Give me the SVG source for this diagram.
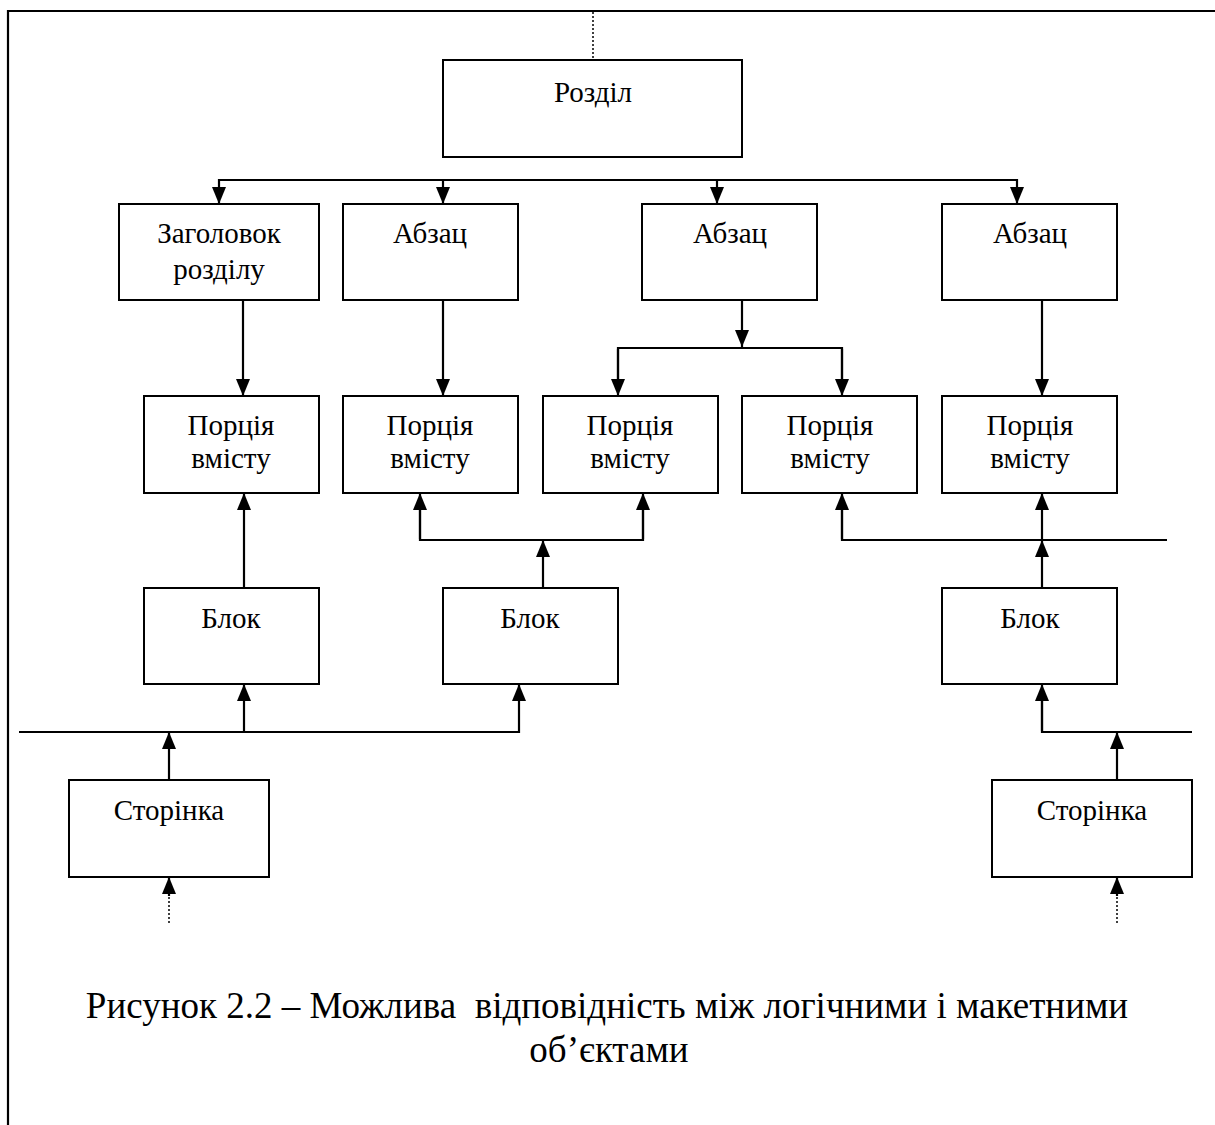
<svg xmlns="http://www.w3.org/2000/svg" width="1215" height="1125" viewBox="0 0 1215 1125">
<style>
.box{fill:#fff;stroke:#000;stroke-width:2}
.ln{fill:none;stroke:#000;stroke-width:2.2}
.dot{fill:none;stroke:#000;stroke-width:1.5;stroke-dasharray:2 2}
.t{font-family:"Liberation Serif","Times New Roman",serif;font-size:29px;fill:#000;text-anchor:middle}
.cap{font-family:"Liberation Serif","Times New Roman",serif;font-size:37px;fill:#000;text-anchor:middle;white-space:pre}
</style>
<defs>
<marker id="ah" markerUnits="userSpaceOnUse" markerWidth="18" markerHeight="14" viewBox="0 0 18 14" refX="17" refY="7" orient="auto">
<path d="M0,0 L17,7 L0,14 Z" fill="#000"/>
</marker>
</defs>
<rect width="1215" height="1125" fill="#fff"/>
<path class="ln" d="M8,1125 V11 H1215"/>

<g id="connectors">
<line class="dot" x1="593" y1="12" x2="593" y2="60"/>
<path class="ln" d="M219,180 H1017"/>
<line class="ln" x1="219" y1="179" x2="219" y2="204" marker-end="url(#ah)"/>
<line class="ln" x1="443" y1="180" x2="443" y2="204" marker-end="url(#ah)"/>
<line class="ln" x1="717" y1="180" x2="717" y2="204" marker-end="url(#ah)"/>
<line class="ln" x1="1017" y1="179" x2="1017" y2="204" marker-end="url(#ah)"/>
<line class="ln" x1="243" y1="300" x2="243" y2="396" marker-end="url(#ah)"/>
<line class="ln" x1="443" y1="300" x2="443" y2="396" marker-end="url(#ah)"/>
<line class="ln" x1="742" y1="300" x2="742" y2="347" marker-end="url(#ah)"/>
<path class="ln" d="M618,380 V348 H842 V380"/>
<line class="ln" x1="618" y1="349" x2="618" y2="396" marker-end="url(#ah)"/>
<line class="ln" x1="842" y1="349" x2="842" y2="396" marker-end="url(#ah)"/>
<line class="ln" x1="1042" y1="300" x2="1042" y2="396" marker-end="url(#ah)"/>
<line class="ln" x1="244" y1="588" x2="244" y2="493" marker-end="url(#ah)"/>
<line class="ln" x1="543" y1="588" x2="543" y2="540" marker-end="url(#ah)"/>
<path class="ln" d="M420,510 V540 H643 V510"/>
<line class="ln" x1="420" y1="539" x2="420" y2="493" marker-end="url(#ah)"/>
<line class="ln" x1="643" y1="539" x2="643" y2="493" marker-end="url(#ah)"/>
<path class="ln" d="M842,510 V540 H1167"/>
<line class="ln" x1="842" y1="539" x2="842" y2="493" marker-end="url(#ah)"/>
<line class="ln" x1="1042" y1="540" x2="1042" y2="493" marker-end="url(#ah)"/>
<line class="ln" x1="1042" y1="588" x2="1042" y2="540" marker-end="url(#ah)"/>
<path class="ln" d="M19,732 H519"/>
<line class="ln" x1="244" y1="732" x2="244" y2="684" marker-end="url(#ah)"/>
<line class="ln" x1="519" y1="733" x2="519" y2="684" marker-end="url(#ah)"/>
<line class="ln" x1="169" y1="780" x2="169" y2="732" marker-end="url(#ah)"/>
<path class="ln" d="M1042,700 V732 H1192"/>
<line class="ln" x1="1042" y1="731" x2="1042" y2="684" marker-end="url(#ah)"/>
<line class="ln" x1="1117" y1="780" x2="1117" y2="732" marker-end="url(#ah)"/>
<line class="dot" x1="169" y1="923" x2="169" y2="894"/>
<line class="ln" x1="169" y1="896" x2="169" y2="877" marker-end="url(#ah)"/>
<line class="dot" x1="1117" y1="923" x2="1117" y2="894"/>
<line class="ln" x1="1117" y1="896" x2="1117" y2="877" marker-end="url(#ah)"/>
</g>

<g id="rozdil"><rect class="box" x="443" y="60" width="299" height="97"/><text class="t" x="593" y="102">Розділ</text></g>
<g id="zagolovok"><rect class="box" x="119" y="204" width="200" height="96"/><text class="t" x="219" y="243">Заголовок</text><text class="t" x="219" y="279">розділу</text></g>
<g id="abzac1"><rect class="box" x="343" y="204" width="175" height="96"/><text class="t" x="430" y="243">Абзац</text></g>
<g id="abzac2"><rect class="box" x="642" y="204" width="175" height="96"/><text class="t" x="730" y="243">Абзац</text></g>
<g id="abzac3"><rect class="box" x="942" y="204" width="175" height="96"/><text class="t" x="1030" y="243">Абзац</text></g>

<g id="porcia1"><rect class="box" x="144" y="396" width="175" height="97"/><text class="t" x="231" y="435">Порція</text><text class="t" x="231" y="468">вмісту</text></g>
<g id="porcia2"><rect class="box" x="343" y="396" width="175" height="97"/><text class="t" x="430" y="435">Порція</text><text class="t" x="430" y="468">вмісту</text></g>
<g id="porcia3"><rect class="box" x="543" y="396" width="175" height="97"/><text class="t" x="630" y="435">Порція</text><text class="t" x="630" y="468">вмісту</text></g>
<g id="porcia4"><rect class="box" x="742" y="396" width="175" height="97"/><text class="t" x="830" y="435">Порція</text><text class="t" x="830" y="468">вмісту</text></g>
<g id="porcia5"><rect class="box" x="942" y="396" width="175" height="97"/><text class="t" x="1030" y="435">Порція</text><text class="t" x="1030" y="468">вмісту</text></g>

<g id="blok1"><rect class="box" x="144" y="588" width="175" height="96"/><text class="t" x="231" y="628">Блок</text></g>
<g id="blok2"><rect class="box" x="443" y="588" width="175" height="96"/><text class="t" x="530" y="628">Блок</text></g>
<g id="blok3"><rect class="box" x="942" y="588" width="175" height="96"/><text class="t" x="1030" y="628">Блок</text></g>

<g id="storinka1"><rect class="box" x="69" y="780" width="200" height="97"/><text class="t" x="169" y="820">Сторінка</text></g>
<g id="storinka2"><rect class="box" x="992" y="780" width="200" height="97"/><text class="t" x="1092" y="820">Сторінка</text></g>

<g id="caption">
<text class="cap" x="607" y="1018" xml:space="preserve">Рисунок 2.2 – Можлива  відповідність між логічними і макетними</text>
<text class="cap" x="609" y="1062">об’єктами</text>
</g>
</svg>
